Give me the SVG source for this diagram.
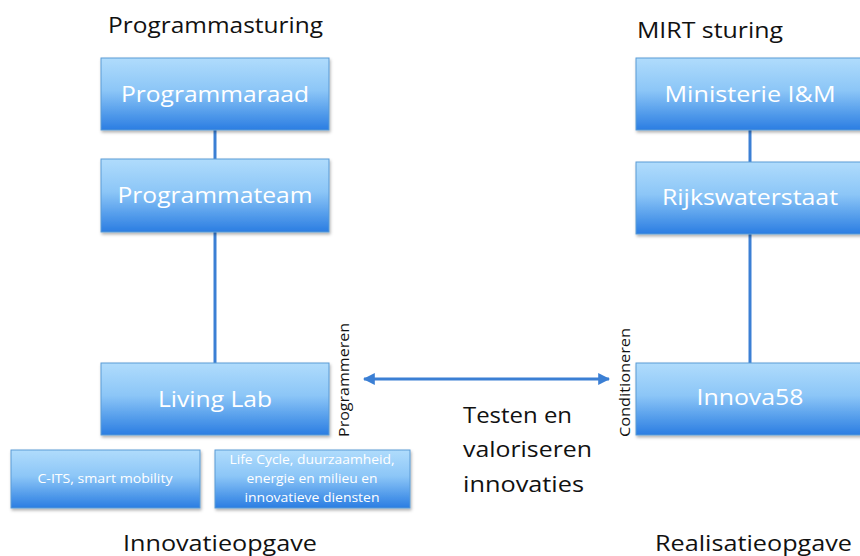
<svg xmlns="http://www.w3.org/2000/svg" width="860" height="556" viewBox="0 0 860 556">
<defs>
<linearGradient id="g" x1="0" y1="0" x2="0" y2="1">
<stop offset="0" stop-color="#b0dcfc"/>
<stop offset="0.45" stop-color="#8cc6f7"/>
<stop offset="1" stop-color="#2a7de2"/>
</linearGradient>
<filter id="sh" x="-5%" y="-5%" width="115%" height="120%">
<feDropShadow dx="1" dy="2" stdDeviation="1.5" flood-color="#000" flood-opacity="0.3"/>
</filter>
<marker id="ah" viewBox="0 0 10 10" refX="9" refY="5" markerWidth="4" markerHeight="4" orient="auto-start-reverse" markerUnits="strokeWidth">
<path d="M0,0 L10,5 L0,10 z" fill="#3b7fd4"/>
</marker>
</defs>
<style>
.box{fill:url(#g);stroke:#5b9bd5;stroke-width:1;filter:url(#sh)}
.bt{font-family:"Open Sans","Liberation Sans",sans-serif;font-size:22px;fill:#fff;text-anchor:middle}
.st{font-family:"Open Sans","Liberation Sans",sans-serif;font-size:12px;fill:#fff;text-anchor:middle}
.lbl{font-family:"Open Sans","Liberation Sans",sans-serif;font-size:22px;fill:#111}
.vt{font-family:"Open Sans","Liberation Sans",sans-serif;font-size:14px;fill:#111}
.ln{stroke:#3b7fd4;stroke-width:3;fill:none}
</style>
<g id="connectors">
<line class="ln" x1="215" y1="130" x2="215" y2="159"/>
<line class="ln" x1="215" y1="232" x2="215" y2="363"/>
<line class="ln" x1="750" y1="130" x2="750" y2="162"/>
<line class="ln" x1="750" y1="234" x2="750" y2="363"/>
<line class="ln" x1="364" y1="379" x2="609" y2="379" stroke-width="2.5" marker-start="url(#ah)" marker-end="url(#ah)"/>
</g>
<g id="title-left"><text class="lbl" x="108" y="33" textLength="215" lengthAdjust="spacingAndGlyphs">Programmasturing</text></g>
<g id="title-right"><text class="lbl" x="637" y="38" textLength="146" lengthAdjust="spacingAndGlyphs">MIRT sturing</text></g>
<g id="programmaraad">
<rect class="box" x="101" y="58" width="228" height="72"/>
<text class="bt" x="215" y="102" textLength="188" lengthAdjust="spacingAndGlyphs">Programmaraad</text>
</g>
<g id="programmateam">
<rect class="box" x="101" y="159" width="228" height="73"/>
<text class="bt" x="215" y="203" textLength="195" lengthAdjust="spacingAndGlyphs">Programmateam</text>
</g>
<g id="livinglab">
<rect class="box" x="101" y="363" width="228" height="72"/>
<text class="bt" x="215" y="407" textLength="114" lengthAdjust="spacingAndGlyphs">Living Lab</text>
</g>
<g id="ministerie">
<rect class="box" x="636" y="58" width="230" height="72"/>
<text class="bt" x="750" y="102" textLength="171" lengthAdjust="spacingAndGlyphs">Ministerie I&amp;M</text>
</g>
<g id="rijkswaterstaat">
<rect class="box" x="636" y="162" width="230" height="72"/>
<text class="bt" x="750" y="205" textLength="176" lengthAdjust="spacingAndGlyphs">Rijkswaterstaat</text>
</g>
<g id="innova58">
<rect class="box" x="636" y="363" width="230" height="72"/>
<text class="bt" x="750" y="405" textLength="107" lengthAdjust="spacingAndGlyphs">Innova58</text>
</g>
<g id="cits">
<rect class="box" x="11" y="450" width="189" height="58"/>
<text class="st" x="105" y="483" textLength="135" lengthAdjust="spacingAndGlyphs">C-ITS, smart mobility</text>
</g>
<g id="lifecycle">
<rect class="box" x="215" y="450" width="195" height="58"/>
<text class="st" x="312" y="464" textLength="165" lengthAdjust="spacingAndGlyphs">Life Cycle, duurzaamheid,</text>
<text class="st" x="312" y="483" textLength="131" lengthAdjust="spacingAndGlyphs">energie en milieu en</text>
<text class="st" x="312" y="502" textLength="135" lengthAdjust="spacingAndGlyphs">innovatieve diensten</text>
</g>
<g id="programmeren"><text class="vt" transform="translate(349,437) rotate(-90)" textLength="114" lengthAdjust="spacingAndGlyphs">Programmeren</text></g>
<g id="conditioneren"><text class="vt" transform="translate(630,437) rotate(-90)" textLength="109" lengthAdjust="spacingAndGlyphs">Conditioneren</text></g>
<g id="testen">
<text class="lbl" x="463" y="423" textLength="109" lengthAdjust="spacingAndGlyphs">Testen en</text>
<text class="lbl" x="463" y="457" textLength="129" lengthAdjust="spacingAndGlyphs">valoriseren</text>
<text class="lbl" x="463" y="492" textLength="121" lengthAdjust="spacingAndGlyphs">innovaties</text>
</g>
<g id="bottom-left"><text class="lbl" x="123" y="551" textLength="194" lengthAdjust="spacingAndGlyphs">Innovatieopgave</text></g>
<g id="bottom-right"><text class="lbl" x="655" y="551" textLength="197" lengthAdjust="spacingAndGlyphs">Realisatieopgave</text></g>
</svg>
